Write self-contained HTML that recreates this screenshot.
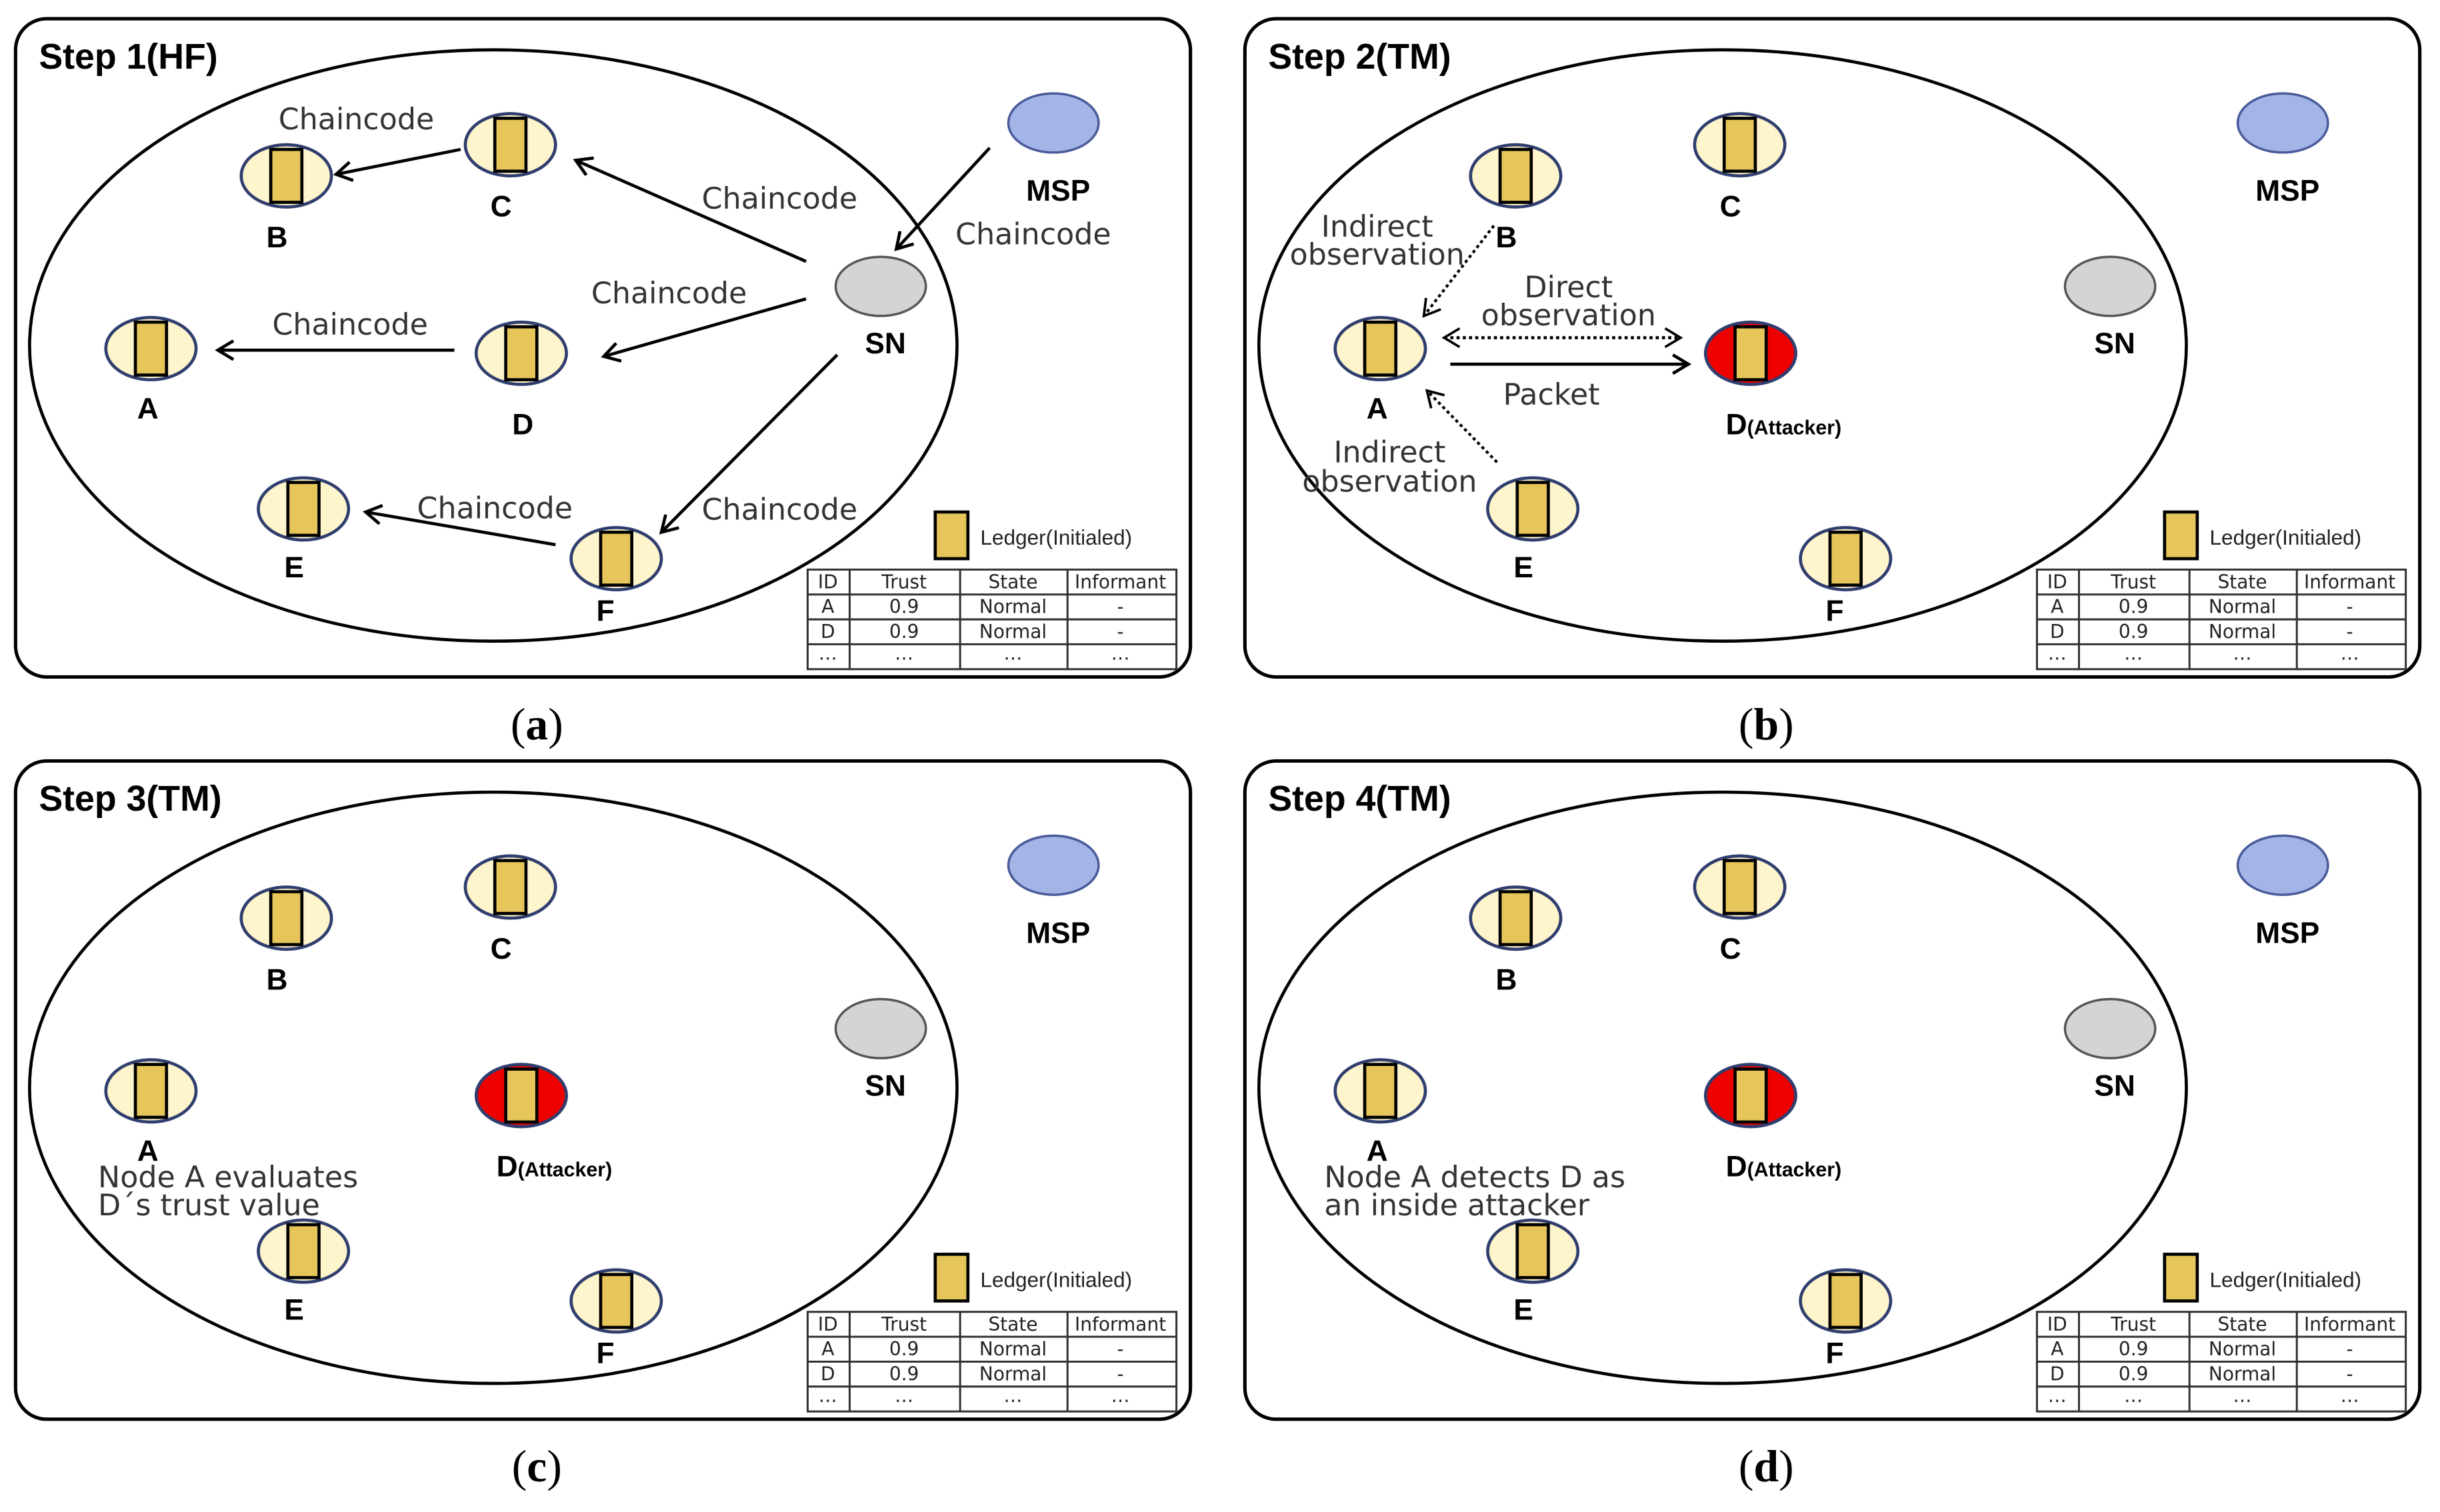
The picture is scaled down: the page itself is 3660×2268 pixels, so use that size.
<!DOCTYPE html>
<html><head><meta charset="utf-8"><style>
html,body{margin:0;padding:0;background:#fff;}
svg{display:block;}
.t{font-family:"Liberation Sans",sans-serif;}
.lbl{font-family:"Liberation Sans",sans-serif;font-weight:bold;font-size:19px;text-anchor:middle;}
.cc{font-family:"DejaVu Sans",sans-serif;font-size:19px;fill:#333;font-weight:normal;}
.tb{font-family:"DejaVu Sans",sans-serif;font-size:12px;text-anchor:middle;fill:#222;}
.cap{font-family:"Liberation Serif",serif;font-size:29px;text-anchor:middle;}
</style></head><body>
<svg width="3660" height="2268" viewBox="0 0 1568 971.6" xmlns="http://www.w3.org/2000/svg">
<defs>
<marker id="ah" markerWidth="14" markerHeight="14" refX="11" refY="7" orient="auto" markerUnits="userSpaceOnUse">
<path d="M1,1 L11,7 L1,13" fill="none" stroke="#000" stroke-width="2"/></marker>
<marker id="ahs" markerWidth="14" markerHeight="14" refX="11" refY="7" orient="auto-start-reverse" markerUnits="userSpaceOnUse">
<path d="M1,1 L11,7 L1,13" fill="none" stroke="#000" stroke-width="1.6"/></marker>
<g id="node"><ellipse cx="0" cy="0" rx="29" ry="20" fill="#fff5cc" stroke="#2f3e6e" stroke-width="2"/><rect x="-10" y="-17" width="20" height="34" fill="#e6c55a" stroke="#000" stroke-width="2"/></g>
<g id="rnode"><ellipse cx="0" cy="0" rx="29" ry="20" fill="#ee0000" stroke="#2f3e6e" stroke-width="2"/><rect x="-10" y="-17" width="20" height="34" fill="#e6c55a" stroke="#000" stroke-width="2"/></g>
<g id="base">
<rect x="10" y="12" width="755" height="423" rx="20" fill="#fff" stroke="#000" stroke-width="2.2"/>
<ellipse cx="317" cy="222" rx="298" ry="190" fill="none" stroke="#000" stroke-width="2"/>
<ellipse cx="677" cy="79" rx="29" ry="19" fill="#a3b4e6" stroke="#4a5a9a" stroke-width="1.5"/>
<text x="680" y="129" class="lbl">MSP</text>
<ellipse cx="566" cy="184" rx="29" ry="19" fill="#d4d4d4" stroke="#555" stroke-width="1.5"/>
<text x="569" y="227" class="lbl">SN</text>
<use href="#node" x="184" y="113"/><text x="178" y="159" class="lbl">B</text>
<use href="#node" x="328" y="93"/><text x="322" y="139" class="lbl">C</text>
<use href="#node" x="97" y="224"/><text x="95" y="269" class="lbl">A</text>
<use href="#node" x="195" y="327"/><text x="189" y="371" class="lbl">E</text>
<use href="#node" x="396" y="359"/><text x="389" y="399" class="lbl">F</text>
<rect x="601" y="329" width="21" height="30" fill="#e6c55a" stroke="#000" stroke-width="2"/>
<text x="630" y="350" class="t" font-size="13.5" fill="#222">Ledger(Initialed)</text>
<g stroke="#333" stroke-width="1.3" fill="none">
<rect x="519" y="366" width="237" height="64"/>
<line x1="519" y1="382" x2="756" y2="382"/><line x1="519" y1="398" x2="756" y2="398"/><line x1="519" y1="414" x2="756" y2="414"/>
<line x1="546" y1="366" x2="546" y2="430"/><line x1="617" y1="366" x2="617" y2="430"/><line x1="686" y1="366" x2="686" y2="430"/>
</g>
<text x="532" y="378" class="tb">ID</text><text x="581" y="378" class="tb">Trust</text><text x="651" y="378" class="tb">State</text><text x="720" y="378" class="tb">Informant</text>
<text x="532" y="394" class="tb">A</text><text x="581" y="394" class="tb">0.9</text><text x="651" y="394" class="tb">Normal</text><text x="720" y="394" class="tb">-</text>
<text x="532" y="410" class="tb">D</text><text x="581" y="410" class="tb">0.9</text><text x="651" y="410" class="tb">Normal</text><text x="720" y="410" class="tb">-</text>
<text x="532" y="424" class="tb">…</text><text x="581" y="424" class="tb">…</text><text x="651" y="424" class="tb">…</text><text x="720" y="424" class="tb">…</text>
</g>
</defs>

<!-- (a) -->
<g>
<use href="#base"/>
<text x="25" y="44" class="t" font-size="23" font-weight="bold">Step 1(HF)</text>
<use href="#node" x="335" y="227"/><text x="336" y="279" class="lbl">D</text>
<g stroke="#000" stroke-width="2" fill="none" marker-end="url(#ah)">
<line x1="296" y1="96" x2="216" y2="112"/>
<line x1="518" y1="168" x2="370" y2="103"/>
<line x1="636" y1="95" x2="576" y2="160"/>
<line x1="518" y1="192" x2="388" y2="229"/>
<line x1="292" y1="225" x2="140" y2="225"/>
<line x1="538" y1="228" x2="425" y2="342"/>
<line x1="357" y1="350" x2="235" y2="329"/>
</g>
<g class="cc" text-anchor="middle">
<text x="229" y="83">Chaincode</text><text x="501" y="134">Chaincode</text><text x="664" y="157">Chaincode</text>
<text x="430" y="195">Chaincode</text><text x="225" y="215">Chaincode</text><text x="318" y="333">Chaincode</text><text x="501" y="334">Chaincode</text>
</g>
<text x="345" y="475" class="cap">(<tspan font-weight="bold">a</tspan>)</text>
</g>

<!-- (b) -->
<g transform="translate(790,0)">
<use href="#base"/>
<text x="25" y="44" class="t" font-size="23" font-weight="bold">Step 2(TM)</text>
<use href="#rnode" x="335" y="227"/>
<text x="319" y="279" class="t" font-weight="bold" font-size="19">D<tspan font-size="13">(Attacker)</tspan></text>
<g stroke="#000" fill="none">
<line x1="138" y1="217" x2="290" y2="217" stroke-width="2" stroke-dasharray="2,2" marker-start="url(#ahs)" marker-end="url(#ahs)"/>
<line x1="142" y1="234" x2="295" y2="234" stroke-width="2" marker-end="url(#ah)"/>
<line x1="170" y1="145" x2="125" y2="203" stroke-width="1.8" stroke-dasharray="2,2" marker-end="url(#ahs)"/>
<line x1="172" y1="297" x2="127" y2="251" stroke-width="1.8" stroke-dasharray="2,2" marker-end="url(#ahs)"/>
</g>
<g class="cc" text-anchor="middle">
<text x="95" y="152">Indirect</text><text x="95" y="170">observation</text>
<text x="218" y="191">Direct</text><text x="218" y="209">observation</text>
<text x="207" y="260">Packet</text>
<text x="103" y="297">Indirect</text><text x="103" y="316">observation</text>
</g>
<text x="345" y="475" class="cap">(<tspan font-weight="bold">b</tspan>)</text>
</g>

<!-- (c) -->
<g transform="translate(0,477)">
<use href="#base"/>
<text x="25" y="44" class="t" font-size="23" font-weight="bold">Step 3(TM)</text>
<use href="#rnode" x="335" y="227"/>
<text x="319" y="279" class="t" font-weight="bold" font-size="19">D<tspan font-size="13">(Attacker)</tspan></text>
<g class="cc"><text x="63" y="286">Node A evaluates</text><text x="63" y="304">D´s trust value</text></g>
<text x="345" y="475" class="cap">(<tspan font-weight="bold">c</tspan>)</text>
</g>

<!-- (d) -->
<g transform="translate(790,477)">
<use href="#base"/>
<text x="25" y="44" class="t" font-size="23" font-weight="bold">Step 4(TM)</text>
<use href="#rnode" x="335" y="227"/>
<text x="319" y="279" class="t" font-weight="bold" font-size="19">D<tspan font-size="13">(Attacker)</tspan></text>
<g class="cc"><text x="61" y="286">Node A detects D as</text><text x="61" y="304">an inside attacker</text></g>
<text x="345" y="475" class="cap">(<tspan font-weight="bold">d</tspan>)</text>
</g>
</svg>
</body></html>
